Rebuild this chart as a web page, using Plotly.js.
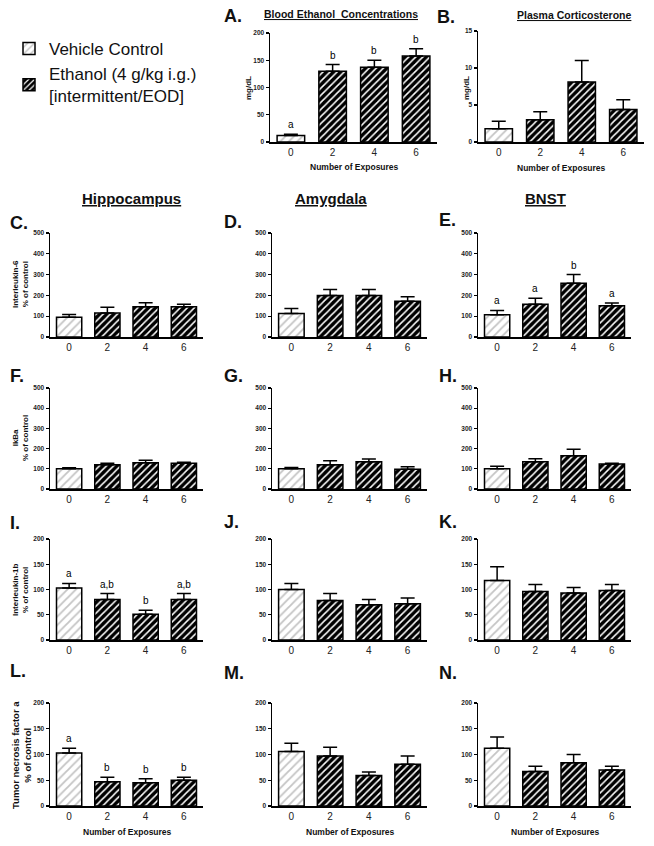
<!DOCTYPE html>
<html><head><meta charset="utf-8">
<script src="https://cdn.plot.ly/plotly-3.0.1.min.js"></script>
<style>body{margin:0;background:#fff;} #chart{width:654px;height:846px;}</style>
</head><body><div id="chart"></div>
<script>
// ---------- data ----------
const exposures = ["0", "2", "4", "6"];
const groupNames = ["Vehicle Control", "Ethanol (4 g/kg i.g.)<br>[intermittent/EOD]"];

const becMean = [12, 130, 137, 158];   const becSem = [2, 12, 13, 13];   const becLetters = ["a", "b", "b", "b"];
const corMean = [1.8, 3.0, 8.1, 4.4];  const corSem = [1.0, 1.1, 2.9, 1.3];
const il6HipMean = [95, 115, 145, 145]; const il6HipSem = [13, 28, 20, 13];
const il6AmyMean = [113, 200, 200, 172]; const il6AmySem = [24, 28, 28, 21];
const il6BnstMean = [107, 158, 258, 150]; const il6BnstSem = [21, 28, 42, 13]; const il6BnstLetters = ["a", "a", "b", "a"];
const ikbHipMean = [100, 120, 130, 128]; const ikbHipSem = [5, 7, 12, 5];
const ikbAmyMean = [100, 120, 135, 98];  const ikbAmySem = [6, 20, 13, 12];
const ikbBnstMean = [100, 135, 165, 124]; const ikbBnstSem = [13, 15, 32, 4];
const il1HipMean = [103, 80, 51, 80];  const il1HipSem = [9, 12, 8, 12]; const il1HipLetters = ["a", "a,b", "b", "a,b"];
const il1AmyMean = [100, 78, 70, 72];  const il1AmySem = [12, 14, 10, 11];
const il1BnstMean = [118, 96, 93, 98]; const il1BnstSem = [27, 14, 11, 12];
const tnfHipMean = [103, 47, 45, 50];  const tnfHipSem = [9, 9, 8, 6]; const tnfHipLetters = ["a", "b", "b", "b"];
const tnfAmyMean = [106, 97, 59, 81];  const tnfAmySem = [16, 17, 7, 16];
const tnfBnstMean = [112, 67, 84, 70]; const tnfBnstSem = [22, 10, 16, 7];

const ticks200 = [0, 50, 100, 150, 200];
const ticks15 = [0, 5, 10, 15];
const ticks500 = [0, 100, 200, 300, 400, 500];

// ---------- layout helpers ----------
const W = 654, H = 846;
const FONT = "Liberation Sans, Arial, sans-serif";
const px = x => x / W;
const py = y => 1 - y / H;

const panels = [
  {lab: "A.", mean: becMean, sem: becSem, letters: becLetters, xs: [270, 437], ys: [33, 142], yr: [0, 200], tv: ticks200, lp: [222, 16]},
  {lab: "B.", mean: corMean, sem: corSem, xs: [478, 644], ys: [31, 142], yr: [0, 15], tv: ticks15, lp: [435, 17]},
  {lab: "C.", mean: il6HipMean, sem: il6HipSem, xs: [50, 203], ys: [233, 337], yr: [0, 500], tv: ticks500, lp: [8, 223]},
  {lab: "D.", mean: il6AmyMean, sem: il6AmySem, xs: [272, 427], ys: [233, 337], yr: [0, 500], tv: ticks500, lp: [222, 222]},
  {lab: "E.", mean: il6BnstMean, sem: il6BnstSem, letters: il6BnstLetters, xs: [478, 631], ys: [233, 337], yr: [0, 500], tv: ticks500, lp: [437, 220]},
  {lab: "F.", mean: ikbHipMean, sem: ikbHipSem, xs: [50, 203], ys: [388, 489], yr: [0, 500], tv: ticks500, lp: [8, 376]},
  {lab: "G.", mean: ikbAmyMean, sem: ikbAmySem, xs: [272, 427], ys: [388, 489], yr: [0, 500], tv: ticks500, lp: [222, 376]},
  {lab: "H.", mean: ikbBnstMean, sem: ikbBnstSem, xs: [478, 631], ys: [388, 489], yr: [0, 500], tv: ticks500, lp: [437, 376]},
  {lab: "I.", mean: il1HipMean, sem: il1HipSem, letters: il1HipLetters, xs: [50, 203], ys: [539, 640], yr: [0, 200], tv: ticks200, lp: [8, 523]},
  {lab: "J.", mean: il1AmyMean, sem: il1AmySem, xs: [272, 427], ys: [539, 640], yr: [0, 200], tv: ticks200, lp: [222, 522]},
  {lab: "K.", mean: il1BnstMean, sem: il1BnstSem, xs: [478, 631], ys: [539, 640], yr: [0, 200], tv: ticks200, lp: [437, 522]},
  {lab: "L.", mean: tnfHipMean, sem: tnfHipSem, letters: tnfHipLetters, xs: [50, 203], ys: [703, 806], yr: [0, 200], tv: ticks200, lp: [8, 671]},
  {lab: "M.", mean: tnfAmyMean, sem: tnfAmySem, xs: [272, 427], ys: [703, 806], yr: [0, 200], tv: ticks200, lp: [222, 673]},
  {lab: "N.", mean: tnfBnstMean, sem: tnfBnstSem, xs: [478, 631], ys: [703, 806], yr: [0, 200], tv: ticks200, lp: [437, 673]}
];

const vehMarker = {color: "white", line: {color: "black", width: 1.5},
  pattern: {shape: "/", fgcolor: "#c4c4c4", bgcolor: "white", size: 6, solidity: 0.3}};
const ethMarker = {color: "black", line: {color: "black", width: 1.5},
  pattern: {shape: "/", fgcolor: "white", bgcolor: "black", size: 5, solidity: 0.3}};

const traces = [];
const layout = {
  width: W, height: H,
  margin: {l: 0, r: 0, t: 0, b: 0},
  paper_bgcolor: "white", plot_bgcolor: "rgba(0,0,0,0)",
  barmode: "overlay",
  font: {family: FONT, color: "#000000"},
  showlegend: true,
  legend: {x: px(9), y: py(31), xanchor: "left", yanchor: "top", traceorder: "normal",
           font: {size: 17, family: FONT, color: "#111111"}, bgcolor: "rgba(0,0,0,0)", tracegroupgap: 0},
  annotations: []
};

panels.forEach((p, i) => {
  const n = i === 0 ? "" : String(i + 1);
  const xa = "x" + n, ya = "y" + n;
  const zeros = p.mean.map(() => 0);
  traces.push({
    type: "bar", x: exposures.slice(0, 1), y: p.mean.slice(0, 1), xaxis: xa, yaxis: ya,
    width: 0.66, marker: vehMarker, name: groupNames[0], showlegend: i === 0, legendrank: 1,
    error_y: {type: "data", symmetric: false, array: p.sem.slice(0, 1), arrayminus: zeros.slice(0, 1),
              color: "black", thickness: 1.5, width: 7},
    hoverinfo: "skip"
  });
  traces.push({
    type: "bar", x: exposures.slice(1), y: p.mean.slice(1), xaxis: xa, yaxis: ya,
    width: 0.66, marker: ethMarker, name: groupNames[1], showlegend: i === 0, legendrank: 2,
    error_y: {type: "data", symmetric: false, array: p.sem.slice(1), arrayminus: zeros.slice(1),
              color: "black", thickness: 1.5, width: 7},
    hoverinfo: "skip"
  });
  layout["xaxis" + n] = {
    domain: [px(p.xs[0]), px(p.xs[1])], anchor: ya,
    type: "category", categoryorder: "array", categoryarray: exposures,
    range: [-0.5, 3.5], showline: true, linecolor: "black", linewidth: 1.5,
    ticks: "", showgrid: false, zeroline: false, fixedrange: true,
    tickfont: {size: 10, family: FONT, color: "#222222"}
  };
  layout["yaxis" + n] = {
    domain: [py(p.ys[1]), py(p.ys[0])], anchor: xa,
    range: p.yr, tickvals: p.tv, ticktext: p.tv.map(String),
    showline: true, linecolor: "black", linewidth: 1.5,
    ticks: "outside", ticklen: 3, tickwidth: 1.2, tickcolor: "black",
    showgrid: false, zeroline: false, fixedrange: true,
    tickfont: {size: 6.5, family: FONT, color: "#222222", weight: "bold"}
  };
  // panel letter
  layout.annotations.push({xref: "paper", yref: "paper", x: px(p.lp[0]), y: py(p.lp[1]),
    xanchor: "left", yanchor: "middle", showarrow: false, text: "<b>" + p.lab + "</b>",
    font: {size: 18, family: FONT, color: "#111111"}});
  // significance letters (x given as the category index on the category axis)
  if (p.letters) {
    p.letters.forEach((t, k) => {
      layout.annotations.push({xref: xa, yref: ya, x: k, y: p.mean[k] + p.sem[k],
        xanchor: "center", yanchor: "bottom", yshift: 2, showarrow: false, text: t,
        font: {size: 10, family: FONT, color: "#000000"}});
    });
  }
});

function note(text, x, y, size, opts) {
  layout.annotations.push(Object.assign({xref: "paper", yref: "paper", x: px(x), y: py(y),
    xanchor: "center", yanchor: "middle", showarrow: false, text: text,
    font: {size: size, family: FONT, color: "#111111"}}, opts || {}));
}
// panel titles
note("<b><u>Blood Ethanol  Concentrations</u></b>", 341, 14, 10.5);
note("<b><u>Plasma Corticosterone</u></b>", 574, 15, 10.5);
note("<b><u>Hippocampus</u></b>", 131, 198, 15);
note("<b><u>Amygdala</u></b>", 331, 198, 15);
note("<b><u>BNST</u></b>", 545, 198, 15);
// y titles
note("<b>mg/dL</b>", 248, 88, 8, {textangle: -90});
note("<b>mg/dL</b>", 466, 88, 8, {textangle: -90});
note("<b>Interleukin-6<br>% of control</b>", 20, 284, 8, {textangle: -90});
note("<b>IkBa<br>% of control</b>", 20, 438, 8, {textangle: -90});
note("<b>Interleukin-1b<br>% of control</b>", 20, 590, 8, {textangle: -90});
note("<b>Tumor necrosis factor a<br>% of control</b>", 21, 755, 9.5, {textangle: -90});
// x titles
note("<b>Number of Exposures</b>", 354, 167, 8.5);
note("<b>Number of Exposures</b>", 561, 168, 8.5);
note("<b>Number of Exposures</b>", 127, 832, 8.5);
note("<b>Number of Exposures</b>", 350, 832, 8.5);
note("<b>Number of Exposures</b>", 555, 832, 8.5);

Plotly.newPlot("chart", traces, layout, {displayModeBar: false, staticPlot: true});
</script>
</body></html>
